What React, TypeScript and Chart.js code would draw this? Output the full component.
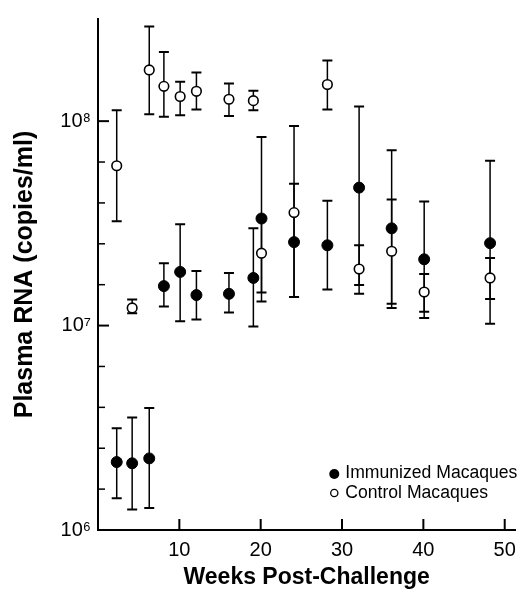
import React, { useEffect, useRef } from 'react';
import { Chart, registerables } from 'chart.js';

Chart.register(...registerables);

// ---- data ----
const weeks = [2.3, 4.2, 6.3, 8.1, 10.1, 12.1, 16.1, 19.1, 20.1, 24.1, 28.2, 32.1, 36.1, 40.1, 48.2];

const immunized = [2.15e6, 2.12e6, 2.24e6, 1.56e7, 1.83e7, 1.41e7, 1.43e7, 1.71e7, 3.34e7, 2.56e7, 2.47e7, 4.73e7, 2.99e7, 2.11e7, 2.53e7];
const immunizedLow = [1.43e6, 1.26e6, 1.28e6, 1.24e7, 1.05e7, 1.07e7, 1.16e7, 9.9e6, 1.45e7, 1.38e7, 1.5e7, 1.58e7, 1.28e7, 1.17e7, 1.35e7];
const immunizedHigh = [3.15e6, 3.55e6, 3.95e6, 2.02e7, 3.13e7, 1.85e7, 1.81e7, 2.99e7, 8.36e7, 9.46e7, 4.08e7, 1.18e8, 7.2e7, 4.05e7, 6.4e7];

const control = [6.05e7, 1.22e7, 1.78e8, 1.48e8, 1.32e8, 1.4e8, 1.28e8, 1.26e8, 2.26e7, 3.57e7, 1.51e8, 1.89e7, 2.31e7, 1.46e7, 1.71e7];
const controlLow = [3.24e7, 1.15e7, 1.08e8, 1.05e8, 1.07e8, 1.14e8, 1.06e8, 1.13e8, 1.31e7, 1.38e7, 1.14e8, 1.43e7, 1.22e7, 1.09e7, 1.02e7];
const controlHigh = [1.13e8, 1.34e7, 2.9e8, 2.18e8, 1.56e8, 1.73e8, 1.53e8, 1.41e8, 3.39e7, 4.94e7, 1.98e8, 2.47e7, 4.14e7, 1.79e7, 2.14e7];

const seriesNames = ['Immunized Macaques', 'Control Macaques'];

const xTicks = [10, 20, 30, 40, 50];
const yMajorTicks = [1e6, 1e7, 1e8];
const yTickLabels = ['10\u2076', '10\u2077', '10\u2078'];
const yMinorTicks = [1.585e6, 2.512e6, 3.981e6, 6.31e6, 1.585e7, 2.512e7, 3.981e7, 6.31e7];

const FONT = '"Liberation Sans", Arial, Helvetica, sans-serif';

const errorBarPlugin = {
  id: 'errorBars',
  beforeDatasetsDraw(chart: any) {
    const { ctx, scales } = chart;
    const xs = scales.x;
    const ys = scales.y;
    ctx.save();
    ctx.strokeStyle = '#000';
    chart.data.datasets.forEach((ds: any) => {
      const lows: number[] = ds.errLow;
      const highs: number[] = ds.errHigh;
      ds.data.forEach((p: any, i: number) => {
        const x = xs.getPixelForValue(p.x);
        const yl = ys.getPixelForValue(lows[i]);
        const yh = ys.getPixelForValue(highs[i]);
        ctx.lineWidth = 1.5;
        ctx.beginPath();
        ctx.moveTo(x, yl);
        ctx.lineTo(x, yh);
        ctx.stroke();
        ctx.lineWidth = 2;
        ctx.beginPath();
        ctx.moveTo(x - 5, yl);
        ctx.lineTo(x + 5, yl);
        ctx.moveTo(x - 5, yh);
        ctx.lineTo(x + 5, yh);
        ctx.stroke();
      });
    });
    ctx.restore();
  },
};

const innerTicksPlugin = {
  id: 'innerTicks',
  afterDraw(chart: any) {
    const { ctx, chartArea, scales } = chart;
    ctx.save();
    ctx.strokeStyle = '#000';
    scales.y.ticks.forEach((t: any) => {
      const y = scales.y.getPixelForValue(t.value);
      const major = yMajorTicks.includes(t.value);
      ctx.lineWidth = major ? 2 : 1.5;
      ctx.beginPath();
      ctx.moveTo(chartArea.left, y);
      ctx.lineTo(chartArea.left + (major ? 11 : 7), y);
      ctx.stroke();
    });
    scales.x.ticks.forEach((t: any) => {
      const x = scales.x.getPixelForValue(t.value);
      ctx.lineWidth = 2;
      ctx.beginPath();
      ctx.moveTo(x, chartArea.bottom);
      ctx.lineTo(x, chartArea.bottom - 11);
      ctx.stroke();
    });
    ctx.restore();
  },
};

const legendPlugin = {
  id: 'insideLegend',
  afterDraw(chart: any) {
    const { ctx, chartArea } = chart;
    ctx.save();
    ctx.font = `17.6px ${FONT}`;
    ctx.textBaseline = 'middle';
    ctx.textAlign = 'left';
    seriesNames.forEach((name, i) => {
      const y = chartArea.bottom - 57 + i * 20;
      const mx = chartArea.right - 181;
      ctx.beginPath();
      if (i === 0) {
        ctx.fillStyle = '#000';
        ctx.arc(mx, y + 1, 5, 0, Math.PI * 2);
        ctx.fill();
      } else {
        ctx.fillStyle = '#fff';
        ctx.strokeStyle = '#000';
        ctx.lineWidth = 1.3;
        ctx.arc(mx, y, 3.6, 0, Math.PI * 2);
        ctx.fill();
        ctx.stroke();
      }
      ctx.fillStyle = '#000';
      ctx.fillText(name, chartArea.right - 170, y);
    });
    ctx.restore();
  },
};

export default function App() {
  const canvasRef = useRef<HTMLCanvasElement | null>(null);

  useEffect(() => {
    document.body.style.margin = '0';
    if (!canvasRef.current) return;
    Chart.defaults.font.family = FONT;
    Chart.defaults.color = '#000';

    const chart = new Chart(canvasRef.current, {
      type: 'scatter',
      data: {
        datasets: [
          {
            label: seriesNames[0],
            data: weeks.map((w, i) => ({ x: w, y: immunized[i] })),
            errLow: immunizedLow,
            errHigh: immunizedHigh,
            pointRadius: 5.5,
            pointBackgroundColor: '#000',
            pointBorderColor: '#000',
            pointBorderWidth: 1,
            showLine: false,
          } as any,
          {
            label: seriesNames[1],
            data: weeks.map((w, i) => ({ x: w, y: control[i] })),
            errLow: controlLow,
            errHigh: controlHigh,
            pointRadius: 4.8,
            pointBackgroundColor: '#fff',
            pointBorderColor: '#000',
            pointBorderWidth: 1.6,
            showLine: false,
          } as any,
        ],
      },
      options: {
        animation: false,
        responsive: true,
        maintainAspectRatio: false,
        layout: { padding: { top: 10, right: 4, left: 0, bottom: 0 } },
        plugins: {
          legend: { display: false },
          tooltip: { enabled: false },
        },
        scales: {
          x: {
            type: 'linear',
            min: 0,
            max: 51.3,
            afterFit: (s: any) => {
              s.height = 61;
            },
            afterBuildTicks: (s: any) => {
              s.ticks = xTicks.map((v) => ({ value: v }));
            },
            grid: { display: false, drawTicks: false },
            border: { display: true, color: '#000', width: 2 },
            ticks: {
              padding: 8,
              color: '#000',
              font: { size: 20, family: FONT },
              callback: (v: any) => String(v),
            },
            title: {
              display: true,
              text: 'Weeks Post-Challenge',
              color: '#000',
              font: { size: 23, weight: 'bold', family: FONT },
              padding: { top: 0, bottom: 0 },
            },
          },
          y: {
            type: 'logarithmic',
            min: 1e6,
            max: 3.16e8,
            afterFit: (s: any) => {
              s.width = 98;
            },
            afterBuildTicks: (s: any) => {
              s.ticks = [...yMajorTicks, ...yMinorTicks]
                .sort((a, b) => a - b)
                .map((v) => ({ value: v }));
            },
            grid: { display: false, drawTicks: false },
            border: { display: true, color: '#000', width: 2 },
            ticks: {
              padding: 7,
              autoSkip: false,
              color: '#000',
              font: { size: 20, family: FONT },
              callback: (v: any) => {
                const idx = yMajorTicks.indexOf(Number(v));
                return idx >= 0 ? yTickLabels[idx] : '';
              },
            },
            title: {
              display: true,
              text: 'Plasma RNA (copies/ml)',
              color: '#000',
              font: { size: 25, weight: 'bold', family: FONT },
              padding: { top: 10, bottom: 0 },
            },
          },
        },
      } as any,
      plugins: [errorBarPlugin, innerTicksPlugin, legendPlugin],
    });

    return () => chart.destroy();
  }, []);

  return (
    <div style={{ position: 'relative', width: 524, height: 591 }}>
      <canvas ref={canvasRef} />
    </div>
  );
}
